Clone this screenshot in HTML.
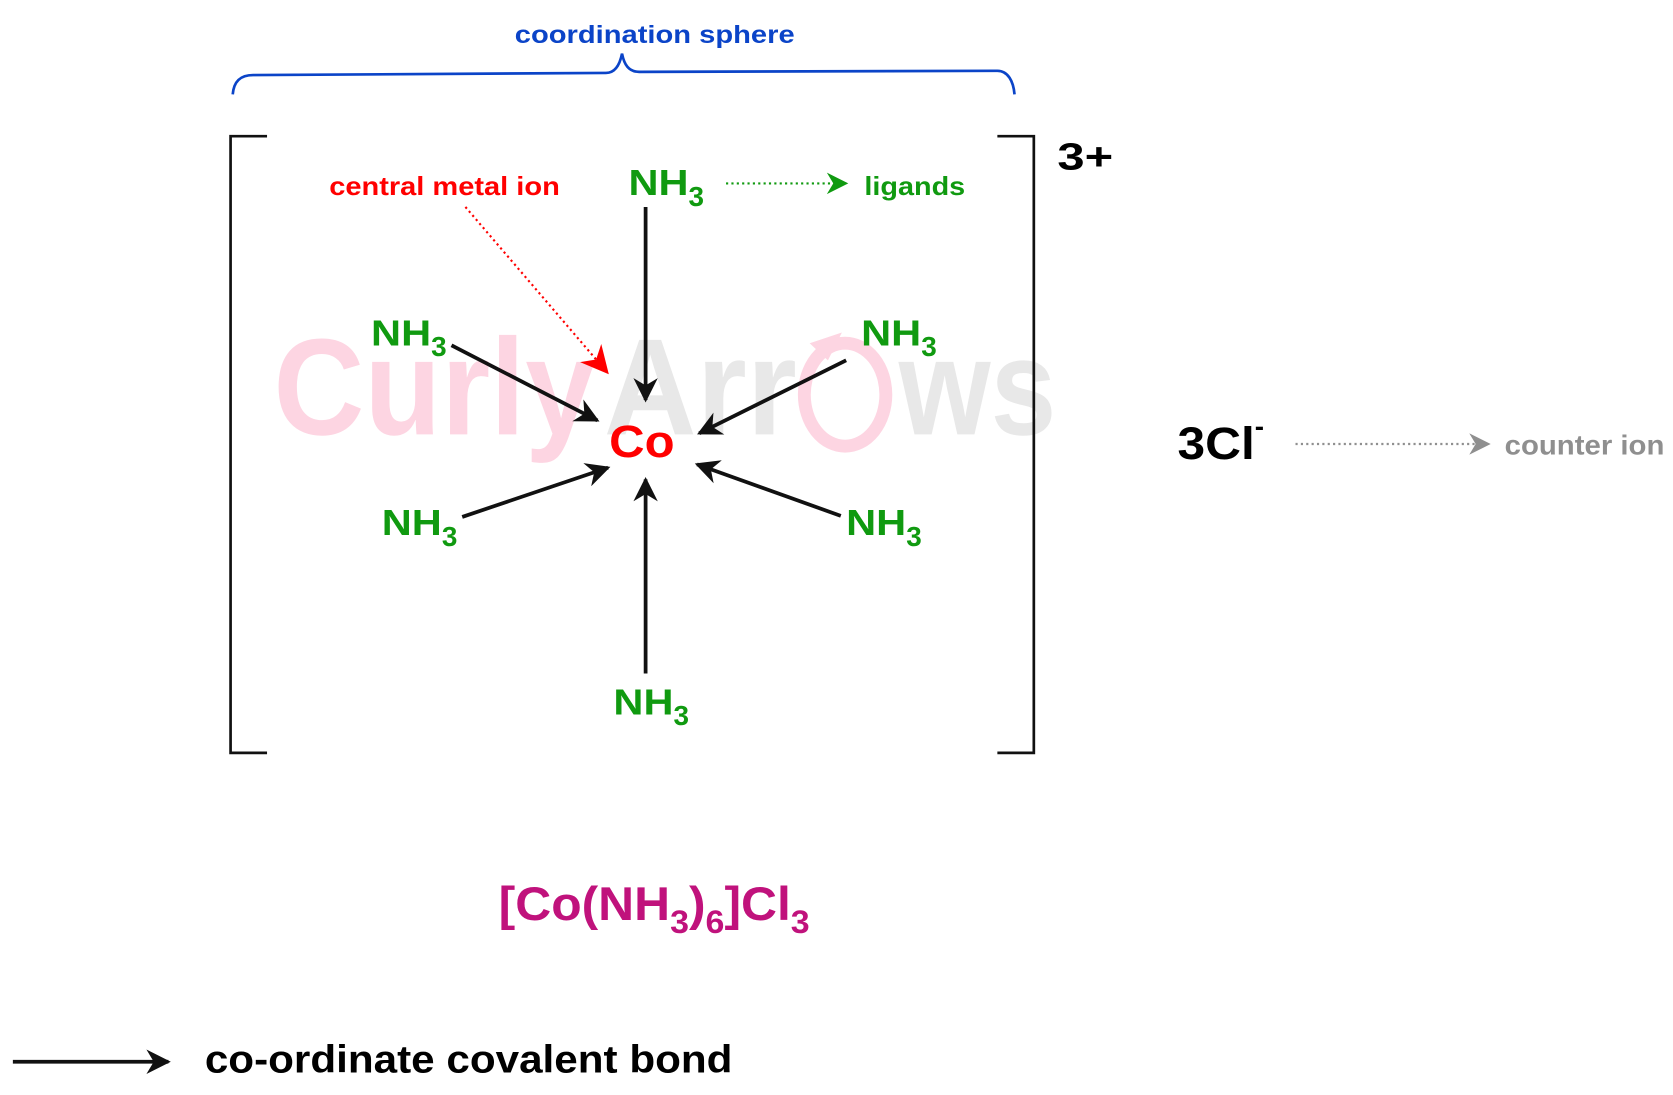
<!DOCTYPE html>
<html><head><meta charset="utf-8"><style>
html,body{margin:0;padding:0;background:#fff;}
svg{display:block;}
text{font-family:"Liberation Sans",Arial,sans-serif;font-weight:bold;}
</style></head><body>
<svg width="1673" height="1095" viewBox="0 0 1560 1021" preserveAspectRatio="none" xmlns="http://www.w3.org/2000/svg">
<defs>
<marker id="ab" viewBox="0 0 10 10" refX="9" refY="5" markerWidth="7" markerHeight="6.5" orient="auto" markerUnits="strokeWidth"><path d="M0,0 L10,5 L0,10 L3,5 z" fill="#111"/></marker>
<marker id="ar" viewBox="0 0 10 10" refX="9" refY="5" markerWidth="13" markerHeight="13" orient="auto" markerUnits="strokeWidth"><path d="M0,0 L10,5 L0,10 L3,5 z" fill="#f00"/></marker>
<marker id="ag" viewBox="0 0 10 10" refX="9" refY="5" markerWidth="16" markerHeight="10" orient="auto" markerUnits="strokeWidth"><path d="M0,0 L10,5 L0,10 L3,5 z" fill="#109a10"/></marker>
<marker id="agr" viewBox="0 0 10 10" refX="9" refY="5" markerWidth="16" markerHeight="10" orient="auto" markerUnits="strokeWidth"><path d="M0,0 L10,5 L0,10 L3,5 z" fill="#8f8f8f"/></marker>
</defs>
<!-- watermark -->
<g font-size="128">
<text x="255" y="405" fill="#fdd5e2" textLength="300" lengthAdjust="spacingAndGlyphs">Curly</text>
<text x="563" y="405" fill="#e8e8e8" textLength="180" lengthAdjust="spacingAndGlyphs">Arr</text>
<text x="838" y="405" fill="#e8e8e8" textLength="147" lengthAdjust="spacingAndGlyphs">ws</text>
</g>
<ellipse cx="788" cy="368" rx="38" ry="48" fill="none" stroke="#fdd5e2" stroke-width="12"/>
<path d="M755,320 L785,310 L772,336 z" fill="#fdd5e2"/>

<text x="480" y="40" font-size="23" fill="#0b44c8" textLength="261" lengthAdjust="spacingAndGlyphs">coordination sphere</text>
<path d="M217,88 C218,76 224,70 236,70 L565,68 C574,68 578,60 580,50 C582,60 586,67 596,67 L930,66 C940,66 945,76 946,88" fill="none" stroke="#0b44c8" stroke-width="2.5"/>

<path d="M249,127 H215 V702 H249" fill="none" stroke="#111" stroke-width="2.5"/>
<path d="M930,127 H964 V702 H930" fill="none" stroke="#111" stroke-width="2.5"/>
<text x="986" y="158" font-size="35" fill="#000" textLength="52" lengthAdjust="spacingAndGlyphs">3+</text>

<text x="307" y="182" font-size="24" fill="#f00" textLength="215" lengthAdjust="spacingAndGlyphs">central metal ion</text>
<line x1="434" y1="193" x2="566" y2="347" stroke="#f00" stroke-width="2" stroke-dasharray="2,3" marker-end="url(#ar)"/>

<g fill="#109a10" font-size="34">
<text x="586" y="182"><tspan textLength="56" lengthAdjust="spacingAndGlyphs">NH</tspan><tspan font-size="26" dy="10">3</tspan></text>
<text x="346" y="322"><tspan textLength="56" lengthAdjust="spacingAndGlyphs">NH</tspan><tspan font-size="26" dy="10">3</tspan></text>
<text x="803" y="322"><tspan textLength="56" lengthAdjust="spacingAndGlyphs">NH</tspan><tspan font-size="26" dy="10">3</tspan></text>
<text x="356" y="499"><tspan textLength="56" lengthAdjust="spacingAndGlyphs">NH</tspan><tspan font-size="26" dy="10">3</tspan></text>
<text x="789" y="499"><tspan textLength="56" lengthAdjust="spacingAndGlyphs">NH</tspan><tspan font-size="26" dy="10">3</tspan></text>
<text x="572" y="666"><tspan textLength="56" lengthAdjust="spacingAndGlyphs">NH</tspan><tspan font-size="26" dy="10">3</tspan></text>
</g>
<line x1="677" y1="171" x2="789" y2="171" stroke="#109a10" stroke-width="2" stroke-dasharray="2,3" marker-end="url(#ag)"/>
<text x="806" y="182" font-size="24" fill="#109a10" textLength="94" lengthAdjust="spacingAndGlyphs">ligands</text>

<g stroke="#111" stroke-width="3.5" marker-end="url(#ab)">
<line x1="602" y1="193" x2="602" y2="373"/>
<line x1="421" y1="322" x2="557" y2="392"/>
<line x1="789" y1="336" x2="652" y2="404"/>
<line x1="431" y1="482" x2="567" y2="436"/>
<line x1="784" y1="481" x2="650" y2="433"/>
<line x1="602" y1="628" x2="602" y2="447"/>
<line x1="12" y1="990" x2="157" y2="990"/>
</g>
<text x="568" y="426" font-size="42" fill="#f00" textLength="61" lengthAdjust="spacingAndGlyphs">Co</text>

<text x="1098" y="428" font-size="42" fill="#000"><tspan textLength="72" lengthAdjust="spacingAndGlyphs">3Cl</tspan><tspan font-size="26" dy="-22">-</tspan></text>
<line x1="1208" y1="414" x2="1388" y2="414" stroke="#8f8f8f" stroke-width="2" stroke-dasharray="2,3" marker-end="url(#agr)"/>
<text x="1403" y="424" font-size="26" fill="#8f8f8f" textLength="149" lengthAdjust="spacingAndGlyphs">counter ion</text>

<text x="465" y="858" font-size="44" fill="#c0127c" textLength="290" lengthAdjust="spacingAndGlyphs">[Co(NH<tspan font-size="30" dy="12">3</tspan><tspan dy="-12">)</tspan><tspan font-size="30" dy="12">6</tspan><tspan dy="-12">]Cl</tspan><tspan font-size="30" dy="12">3</tspan></text>

<text x="191" y="1000" font-size="36" fill="#000" textLength="492" lengthAdjust="spacingAndGlyphs">co-ordinate covalent bond</text>
</svg>
</body></html>
